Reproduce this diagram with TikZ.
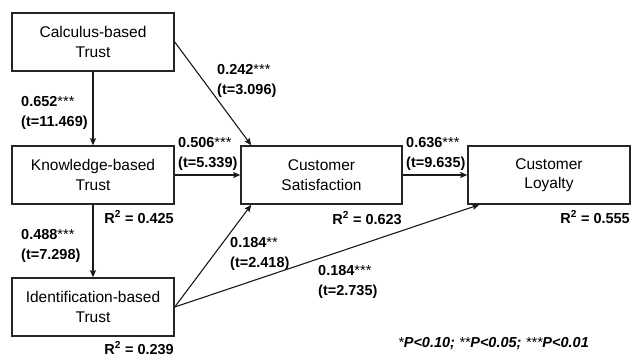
\documentclass[tikz,border=0pt]{standalone}
\usepackage{fontspec}
\setmainfont{Liberation Sans}
\usetikzlibrary{arrows.meta,calc}
\newcommand{\stars}[1]{{\mdseries #1}}
\begin{document}
\begin{tikzpicture}[x=1pt,y=-1pt,
  box/.style={draw=black!85,line width=1.5pt,minimum width=162pt,minimum height=58pt,inner sep=0pt,align=center,font=\fontsize{15.5}{19.5}\selectfont},
  conn/.style={draw=black!90,line width=1.1pt,-{Stealth[length=7pt,width=6pt,inset=1pt]}},
  lab/.style={anchor=base west,inner sep=0pt,font=\fontsize{14.5}{17}\selectfont\bfseries},
  rsq/.style={anchor=base east,inner sep=0pt,font=\fontsize{14.5}{17}\selectfont\bfseries}]
\useasboundingbox (0,0) rectangle (632,356);
\node[box] (calc) at (93,42) {Calculus-based\\Trust};
\node[box] (know) at (93,175) {Knowledge-based\\Trust};
\node[box] (ident) at (93,307) {Identification-based\\Trust};
\node[box,minimum width=161pt] (sat) at (321.5,175) {Customer\\Satisfaction};
\node[box] (loy) at (549,175) {Customer\\Loyalty};

\draw[conn] (calc.south) -- (know.north);
\draw[conn] (know.south) -- (ident.north);
\draw[conn] (calc.east) -- ($(sat.north west)+(11,0)$);
\draw[conn] (know.east) -- (sat.west);
\draw[conn] (sat.east) -- (loy.west);
\draw[conn] (ident.east) -- ($(sat.south west)+(11,0)$);
\draw[conn] (ident.east) -- ($(loy.south west)+(12,0)$);

\node[lab] (a1) at (21,106) {0.652\stars{***}};
\node[lab] (a2) at (21,126) {(t=11.469)};
\node[lab] (b1) at (217,74) {0.242\stars{***}};
\node[lab] (b2) at (217,94) {(t=3.096)};
\node[lab] (c1) at (178,147) {0.506\stars{***}};
\node[lab] (c2) at (178,167) {(t=5.339)};
\node[lab] (d1) at (406,147) {0.636\stars{***}};
\node[lab] (d2) at (406,167) {(t=9.635)};
\node[lab] (e1) at (21,239) {0.488\stars{***}};
\node[lab] (e2) at (21,259) {(t=7.298)};
\node[lab] (f1) at (230,247) {0.184\stars{**}};
\node[lab] (f2) at (230,267) {(t=2.418)};
\node[lab] (g1) at (318,275) {0.184\stars{***}};
\node[lab] (g2) at (318,295) {(t=2.735)};

\node[rsq] (r1) at (174,223) {R\textsuperscript{2} = 0.425};
\node[rsq] (r2) at (402,224) {R\textsuperscript{2} = 0.623};
\node[rsq] (r3) at (630,223) {R\textsuperscript{2} = 0.555};
\node[rsq] (r4) at (174,354) {R\textsuperscript{2} = 0.239};

\node[anchor=base west,inner sep=0pt,font=\fontsize{14.5}{17}\selectfont\bfseries\itshape] (note) at (398,347) {\stars{*}P<0.10; \stars{**}P<0.05; \stars{***}P<0.01};
\end{tikzpicture}
\end{document}
